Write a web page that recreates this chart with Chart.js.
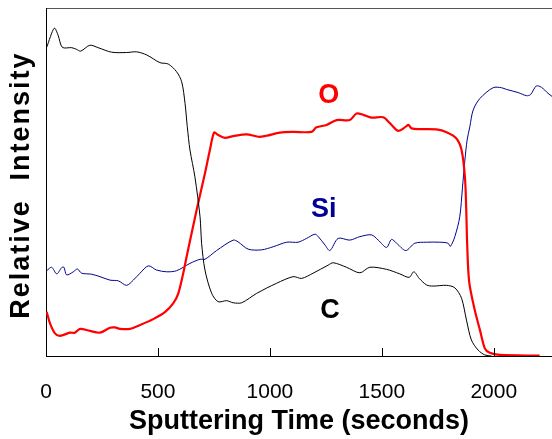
<!DOCTYPE html>
<html>
<head>
<meta charset="utf-8">
<script src="https://cdn.jsdelivr.net/npm/chart.js@4.4.1/dist/chart.umd.min.js"></script>
<style>
  html, body { margin: 0; padding: 0; background: #fff; }
  #wrap { width: 552px; height: 439px; position: relative; }
</style>
</head>
<body>
<div id="wrap"><canvas id="grafico"></canvas></div>
<script>
// tempo (s) e intensidade relativa
const cTime = [3, 37, 54, 73, 115, 137, 155, 196, 233, 293, 360, 405, 450, 509, 546, 583, 606, 621, 631, 643, 665, 688, 695, 710, 740, 769, 807, 836, 874, 941, 1030, 1104, 1142, 1193, 1260, 1283, 1342, 1402, 1446, 1521, 1580, 1622, 1643, 1667, 1700, 1729, 1789, 1826, 1856, 1878, 1900, 1930, 1960, 1990];
const cIntensity = [88.7, 94.2, 92.2, 88.7, 88.6, 88.1, 87.6, 89.3, 88.6, 87.3, 87.2, 87.4, 86.5, 84.3, 83.9, 81.7, 78.8, 72.6, 65.9, 59.2, 51.5, 40.0, 32.4, 24.7, 18.0, 15.6, 15.9, 15.3, 15.3, 18.0, 20.9, 22.8, 22.3, 23.8, 26.1, 26.8, 25.5, 23.9, 25.5, 24.9, 23.6, 22.6, 24.2, 22.3, 20.4, 20.1, 20.3, 19.6, 16.6, 10.3, 4.6, 1.7, 0.3, 0];

const oTime = [3, 18, 40, 62, 107, 129, 152, 196, 241, 286, 308, 330, 375, 420, 479, 531, 568, 591, 613, 628, 673, 710, 732, 751, 769, 799, 836, 896, 948, 985, 1045, 1104, 1186, 1208, 1253, 1298, 1357, 1387, 1417, 1454, 1506, 1536, 1573, 1607, 1619, 1633, 1670, 1744, 1789, 1833, 1856, 1871, 1877, 1881, 1890, 1915, 1938, 1960, 1982, 2027, 2205];
const oIntensity = [12.7, 9.4, 6.5, 5.8, 6.7, 6.7, 7.8, 7.2, 6.7, 8.1, 8.2, 7.8, 7.8, 8.9, 10.6, 12.6, 15.1, 18.0, 23.8, 28.5, 42.0, 52.5, 59.2, 64.2, 63.5, 62.7, 63.2, 63.7, 63.0, 63.3, 64.2, 64.4, 64.4, 65.7, 66.4, 67.8, 67.8, 69.7, 69.3, 68.5, 68.6, 66.9, 64.7, 65.9, 66.4, 65.4, 65.2, 65.1, 64.3, 62.5, 59.2, 51.5, 42.0, 32.4, 21.4, 13.2, 7.5, 2.2, 0.9, 0.3, 0.1];

const siTime = [3, 25, 48, 70, 80, 92, 122, 140, 159, 204, 241, 286, 323, 360, 390, 420, 457, 494, 539, 583, 643, 688, 710, 762, 836, 858, 903, 963, 1015, 1075, 1126, 1164, 1201, 1216, 1246, 1268, 1305, 1357, 1402, 1454, 1484, 1521, 1543, 1566, 1607, 1647, 1700, 1759, 1796, 1806, 1826, 1848, 1860, 1871, 1881, 1893, 1908, 1938, 1997, 2034, 2057, 2109, 2146, 2164, 2190, 2213, 2242, 2260];
const siIntensity = [24.5, 25.5, 23.6, 25.4, 25.5, 23.3, 24.2, 25.0, 23.8, 23.5, 22.8, 21.8, 21.6, 20.3, 21.8, 23.8, 25.9, 24.7, 24.2, 24.5, 26.6, 27.8, 27.8, 30.3, 33.3, 32.8, 30.7, 30.5, 31.4, 32.7, 32.7, 33.8, 35.0, 34.3, 31.9, 30.3, 33.8, 33.3, 34.3, 34.8, 33.3, 31.2, 33.5, 32.4, 30.3, 32.4, 32.7, 32.7, 32.4, 31.5, 34.3, 40.0, 48.3, 56.3, 62.1, 65.9, 70.7, 74.0, 77.1, 77.1, 76.6, 75.7, 74.8, 75.1, 77.6, 77.2, 75.5, 74.6];

const xTicks = [0, 500, 1000, 1500, 2000];

// rótulos dos elementos (posição em unidades do gráfico)
const rotulos = ['O', 'Si', 'C'];
const rotuloTime = [1263, 1241, 1268];
const rotuloIntensity = [74.7, 42.0, 13.2];
const rotuloCor = ['#ff0000', '#000099', '#000000'];

function pares(xs, ys) {
    return xs.map((x, i) => ({ x: x, y: ys[i] }));
}

// marcas internas do eixo x, rótulos O, Si, C e título do eixo y
const textosPlugin = {
    id: 'textos',
    afterDatasetsDraw(chart) {
        const ctx = chart.ctx;
        const sx = chart.scales.x;
        const sy = chart.scales.y;
        const base = chart.chartArea.bottom;

        ctx.save();
        ctx.strokeStyle = '#000';
        ctx.lineWidth = 1;
        ctx.beginPath();
        sx.ticks.forEach(t => {
            const px = Math.round(sx.getPixelForValue(t.value)) + 0.5;
            ctx.moveTo(px, base);
            ctx.lineTo(px, base - 8);
        });
        ctx.stroke();
        ctx.restore();

        ctx.save();
        ctx.font = 'bold 27px "Liberation Sans", Arial, sans-serif';
        ctx.textAlign = 'center';
        ctx.textBaseline = 'middle';
        rotulos.forEach((t, i) => {
            ctx.fillStyle = rotuloCor[i];
            ctx.fillText(t, sx.getPixelForValue(rotuloTime[i]), sy.getPixelForValue(rotuloIntensity[i]));
        });
        ctx.restore();

        ctx.save();
        ctx.translate(22, 189);
        ctx.rotate(-Math.PI / 2);
        ctx.font = 'bold 27px "Liberation Sans", Arial, sans-serif';
        ctx.fillStyle = '#000';
        ctx.textAlign = 'center';
        ctx.textBaseline = 'middle';
        if ('letterSpacing' in ctx) ctx.letterSpacing = '2px';
        ctx.fillText('Relative', -70, 0);
        ctx.fillText('Intensity', 73, 0);
        ctx.restore();
    }
};

const data = {
    datasets: [
        {
            label: 'C',
            data: pares(cTime, cIntensity),
            borderColor: '#000000',
            borderWidth: 1,
            tension: 0.3
        },
        {
            label: 'O',
            data: pares(oTime, oIntensity),
            borderColor: '#ff0000',
            borderWidth: 2.2,
            tension: 0.3
        },
        {
            label: 'Si',
            data: pares(siTime, siIntensity),
            borderColor: '#00008b',
            borderWidth: 1,
            tension: 0.3
        }
    ]
};

const config = {
    type: 'line',
    data: data,
    plugins: [textosPlugin],
    options: {
        responsive: true,
        maintainAspectRatio: false,
        animation: false,
        layout: { padding: 0 },
        elements: { point: { radius: 0 } },
        plugins: {
            legend: { display: false },
            tooltip: { enabled: false }
        },
        scales: {
            x: {
                type: 'linear',
                position: 'bottom',
                min: 0,
                max: 2260,
                afterBuildTicks: function (scale) {
                    scale.ticks = xTicks.map(v => ({ value: v }));
                },
                afterFit: function (scale) { scale.height = 83; },
                ticks: {
                    padding: 16,
                    color: '#000',
                    maxRotation: 0,
                    callback: function (value) { return String(value); },
                    font: { family: '"Liberation Sans", Arial, sans-serif', size: 21 }
                },
                grid: {
                    display: false
                },
                border: { display: true, color: '#000', width: 1 },
                title: {
                    display: true,
                    text: 'Sputtering Time (seconds)',
                    color: '#000',
                    font: { family: '"Liberation Sans", Arial, sans-serif', size: 27, weight: 'bold' },
                    padding: { top: 0, bottom: 1 }
                }
            },
            xTopo: {
                type: 'linear',
                position: 'top',
                afterFit: function (scale) { scale.height = 8; },
                ticks: { display: false },
                grid: { display: false },
                border: { display: true, color: '#555', width: 1 }
            },
            y: {
                type: 'linear',
                min: 0,
                max: 100,
                afterFit: function (scale) { scale.width = 46; },
                ticks: { display: false },
                grid: { display: false },
                border: { display: true, color: '#000', width: 1 }
            }
        }
    }
};

const ctx = document.getElementById('grafico').getContext('2d');
const myChart = new Chart(ctx, config);
</script>
</body>
</html>
